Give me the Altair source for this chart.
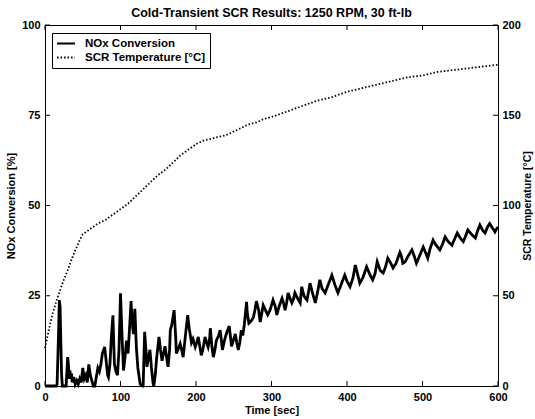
import altair as alt
import pandas as pd

# ---------------- data ----------------
temp_t = [0, 5, 10, 15, 20, 25, 30, 35, 40, 45, 50, 60, 70, 80, 90, 100, 110, 120, 130, 140,
          150, 160, 170, 180, 190, 200, 210, 220, 230, 240, 250, 260, 270, 280, 290, 300,
          320, 340, 360, 380, 400, 420, 440, 460, 480, 500, 520, 540, 560, 580, 600]
temp_v = [21, 31, 40, 47, 53, 59, 64, 70, 75, 80, 84, 87, 90, 92, 95, 98, 101, 105, 109, 113,
          117, 120, 124, 128, 131, 134, 136, 137, 138, 139, 141, 143, 145, 146, 148, 149,
          152, 155, 158, 160, 163, 165, 167, 169, 171, 172, 174, 175, 176, 177, 178]

nox_t = [0, 5, 10, 15, 16, 18, 19, 20, 21, 22, 23, 25, 28, 29, 30, 31, 32, 33, 34, 35, 36, 38,
         40, 42, 44, 46, 48, 50, 52, 54, 56, 58, 60, 62, 64, 66, 68, 70, 72, 74, 76, 79, 81, 83,
         84, 86, 88, 90, 91, 92, 94, 96, 98, 100, 102, 104, 106, 108, 110, 112, 114, 115, 117,
         119, 121, 123, 126, 129, 130, 132, 134, 135, 137, 139, 141, 143, 144, 146, 148, 151,
         153, 155, 157, 159, 161, 163, 165, 166, 168, 171, 173, 174, 176, 179, 181, 183, 186,
         189, 191, 194, 196, 199, 201, 203, 205, 207, 209, 212, 214, 216, 218, 219, 221, 223,
         225, 227, 230, 232, 234, 235, 237, 239, 241, 244, 246, 247, 250, 252, 254, 256, 258,
         260, 262, 264, 267, 268, 270, 273, 276, 278, 280, 283, 285, 287, 289, 292, 295, 298,
         302, 305, 307, 310, 314, 316, 318, 320, 322, 325, 327, 329, 331, 334, 338, 340, 343,
         344, 347, 349, 351, 354, 358, 361, 364, 367, 371, 375, 380, 384, 388, 392, 397, 400,
         404, 408, 411, 414, 417, 421, 426, 430, 434, 437, 440, 444, 448, 451, 454, 458, 461,
         465, 470, 472, 474, 477, 481, 486, 489, 492, 496, 501, 504, 507, 510, 514, 518, 523,
         526, 530, 534, 539, 542, 546, 550, 554, 557, 560, 565, 570, 573, 576, 580, 583, 586,
         589, 592, 596, 598, 600]
nox_v = [0, 0, 0, 0, 0.5, 15, 23.8, 22, 12, 3, 0, 0, 0, 4, 8, 6, 2, 4.3, 2, 3.5, 1, 2.5,
         0.5, 1.5, 0.5, 2, 1, 5, 2, 3, 1, 6, 3, 1.5, 0, 0, 2.5, 5, 4, 6, 9, 10.8, 7, 3,
         2.5, 6, 14, 19.6, 12, 6, 4, 3, 10, 25.7, 14, 4.3, 8, 12.6, 9, 16, 23.5, 19, 14.4,
         21.4, 10.8, 5, 0.6, 0, 0, 15, 9, 5.3, 8, 10, 5, 1, 0, 3, 8, 13.6,
         10, 7, 9, 11, 8, 5.3, 10, 15.5, 17, 21, 14, 9, 10, 11.7, 10, 8, 14,
         19.6, 16, 12, 13, 10.8, 12, 13.6, 11, 8.5, 10, 13.6, 12, 10.8, 13, 16, 11, 8,
         10, 12.6, 14, 15.5, 12, 10, 12, 13.6, 15, 16.6, 13, 11, 13, 14.4, 12, 10, 12,
         15.5, 14, 17, 23.3, 20, 17.4, 18, 19, 21, 23.5, 21, 17.7, 20, 22.4, 21, 19.7, 21,
         23.8, 22, 19.7, 22, 24.3, 23, 21, 23, 25.8, 24, 23, 24, 25.8, 24.5, 23, 27.5, 25,
         24.6, 23.8, 26, 28.5, 26, 23, 26, 29.4, 27, 25.8, 28, 30.7, 28, 25.8, 28, 30.7, 29,
         27.5, 30, 33.5, 31, 28.5, 30, 33, 31, 29.4, 31, 34.4, 32, 31.3, 33, 35.4, 34, 32.7,
         34, 37, 36, 34, 34.4, 36, 37.7, 36, 34, 36, 38.5, 37, 35.4, 38, 40.4, 39, 37.7,
         39, 41.3, 40, 39, 40.5, 42.4, 41, 40, 41.5, 43.2, 42, 41, 43, 44.6, 43, 42.4, 44,
         45, 44, 42.7, 43.5, 44]

series_names = ["NOx Conversion", "SCR Temperature [°C]"]
x_ticks = [0, 100, 200, 300, 400, 500, 600]
left_ticks = [0, 25, 50, 75, 100]
right_ticks = [0, 50, 100, 150, 200]

W, H = 453, 361
FONT = "Liberation Sans"

nox_df = pd.DataFrame({"t": nox_t, "v": nox_v, "series": series_names[0]})
temp_df = pd.DataFrame({"t": temp_t, "v": temp_v, "series": series_names[1]})
xt_df = pd.DataFrame({"t": x_ticks})
yl_df = pd.DataFrame({"v": left_ticks})
yr_df = pd.DataFrame({"v": right_ticks})

xscale = alt.Scale(domain=[0, 600], nice=False, zero=False)
ylscale = alt.Scale(domain=[0, 100], nice=False)
yrscale = alt.Scale(domain=[0, 200], nice=False)

xaxis = alt.Axis(title="Time [sec]", values=x_ticks, orient="bottom",
                 labelFlush=False, labelPadding=5, titlePadding=2)
ylaxis = alt.Axis(title="NOx Conversion [%]", values=left_ticks, orient="left",
                  labelFlush=False, labelPadding=5, titlePadding=5)
yraxis = alt.Axis(title="SCR Temperature [°C]", values=right_ticks, orient="right",
                  labelFlush=False, labelPadding=4, titleAngle=270, titleBaseline="top",
                  titlePadding=2, titleFontSize=10.5)

dash = alt.StrokeDash(
    "series:N",
    scale=alt.Scale(domain=series_names, range=[[1, 0], [1.5, 2]]),
    legend=alt.Legend(
        title=None, orient="none", legendX=7, legendY=8,
        strokeColor="black", fillColor="white", padding=4,
        labelFont=FONT, labelFontSize=11.5, labelFontWeight="bold", labelColor="black",
        labelOffset=9,
        symbolType="stroke", symbolStrokeWidth=2, symbolSize=320,
        symbolStrokeColor="black", rowPadding=1, clipHeight=13,
        labelLimit=300, cornerRadius=0,
    ),
)

nox_line = alt.Chart(nox_df).mark_line(color="black", strokeWidth=2.8).encode(
    x=alt.X("t:Q", scale=xscale, axis=xaxis),
    y=alt.Y("v:Q", scale=ylscale, axis=ylaxis),
    strokeDash=dash,
)

xt_bottom = alt.Chart(xt_df).mark_rule(color="black").encode(
    x=alt.X("t:Q", scale=xscale, axis=xaxis), y=alt.value(H), y2=alt.value(H - 5))
xt_top = alt.Chart(xt_df).mark_rule(color="black").encode(
    x=alt.X("t:Q", scale=xscale, axis=xaxis), y=alt.value(0), y2=alt.value(5))
yl_tick = alt.Chart(yl_df).mark_rule(color="black").encode(
    y=alt.Y("v:Q", scale=ylscale, axis=ylaxis), x=alt.value(0), x2=alt.value(5))

temp_line = alt.Chart(temp_df).mark_line(color="black", strokeWidth=1.8).encode(
    x=alt.X("t:Q", scale=xscale, axis=xaxis),
    y=alt.Y("v:Q", scale=yrscale, axis=yraxis),
    strokeDash=dash,
)
yr_tick = alt.Chart(yr_df).mark_rule(color="black").encode(
    y=alt.Y("v:Q", scale=yrscale, axis=yraxis), x=alt.value(W), x2=alt.value(W - 5))

left = alt.layer(nox_line, xt_bottom, xt_top, yl_tick)
right = alt.layer(temp_line, yr_tick)

chart = alt.layer(left, right).resolve_scale(y="independent").properties(
    width=W, height=H,
    title=alt.Title("Cold-Transient SCR Results: 1250 RPM, 30 ft-lb", font=FONT,
                    fontSize=12.5, fontWeight="bold", color="black", offset=0),
    padding={"left": 45, "top": 25, "right": 37, "bottom": 33},
    autosize=alt.AutoSizeParams(type="none"),
    background="white",
).configure_view(stroke="black", strokeWidth=1).configure_axis(
    grid=False, domain=False, ticks=False, tickSize=0,
    labelFont=FONT, titleFont=FONT, labelFontSize=11, titleFontSize=11,
    labelFontWeight="bold", titleFontWeight="bold",
    labelColor="black", titleColor="black",
)

chart.save("out.html", embed_options={"renderer": "svg", "actions": False})
